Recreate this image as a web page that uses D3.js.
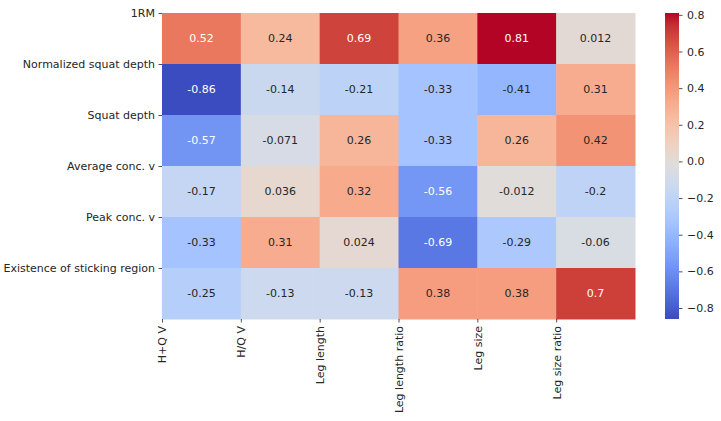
<!DOCTYPE html>
<html>
<head>
<meta charset="utf-8">
<script src="https://cdn.jsdelivr.net/npm/d3@7"></script>
<style>
  body { margin: 0; background: #fff; }
  text { font-family: "DejaVu Sans", sans-serif; }
</style>
</head>
<body>
<div id="chart"></div>
<script>
const w = 721;
const h = 421;

// data
const rowNames = ["1RM", "Normalized squat depth", "Squat depth", "Average conc. v", "Peak conc. v", "Existence of sticking region"];
const colNames = ["H+Q V", "H/Q V", "Leg length", "Leg length ratio", "Leg size", "Leg size ratio"];
const values = [
    [0.52, 0.24, 0.69, 0.36, 0.81, 0.012],
    [-0.86, -0.14, -0.21, -0.33, -0.41, 0.31],
    [-0.57, -0.071, 0.26, -0.33, 0.26, 0.42],
    [-0.17, 0.036, 0.32, -0.56, -0.012, -0.2],
    [-0.33, 0.31, 0.024, -0.69, -0.29, -0.06],
    [-0.25, -0.13, -0.13, 0.38, 0.38, 0.7]
];
const cbarTicks = [-0.8, -0.6, -0.4, -0.2, 0.0, 0.2, 0.4, 0.6, 0.8];

// coolwarm table (Moreland)
const cw = [
    [59,76,192],[68,90,204],[77,104,215],[87,117,225],[98,130,234],[108,142,241],
    [119,154,247],[130,165,251],[141,176,254],[152,185,255],[163,194,255],[174,201,253],
    [184,208,249],[194,213,244],[204,217,238],[213,219,230],[221,221,221],[229,216,209],
    [236,211,197],[241,204,185],[245,196,173],[247,187,160],[247,177,148],[247,166,135],
    [244,154,123],[241,141,111],[236,127,99],[229,112,88],[222,96,77],[213,80,66],
    [203,62,56],[192,40,47],[180,4,38]
];
const coolwarm = d3.scaleLinear()
    .domain(cw.map((d, i) => i / (cw.length - 1)))
    .range(cw.map(d => d3.rgb(d[0], d[1], d[2])))
    .interpolate(d3.interpolateRgb)
    .clamp(true);

const all = values.flat();
const vmin = d3.min(all), vmax = d3.max(all);
const norm = d3.scaleLinear().domain([vmin, vmax]).range([0, 1]);
const color = v => coolwarm(norm(v));

const plot = { left: 162, right: 635, top: 13, bottom: 319 };
const fs = "11px";

const x = d3.scaleBand().domain(colNames).range([plot.left, plot.right]).padding(0);
const y = d3.scaleBand().domain(rowNames).range([plot.top, plot.bottom]).padding(0);

const svg = d3.select("#chart").append("svg")
    .attr("width", w)
    .attr("height", h);

// cells
const cells = [];
values.forEach((row, i) => row.forEach((v, j) => cells.push({ r: rowNames[i], c: colNames[j], v: v })));

svg.append("g").selectAll("rect")
    .data(cells)
    .enter()
    .append("rect")
    .attr("x", d => x(d.c))
    .attr("y", d => y(d.r))
    .attr("width", x.bandwidth() + 0.5)
    .attr("height", y.bandwidth() + 0.5)
    .attr("fill", d => color(d.v));

let lum = (c) => {
    let rgb = d3.rgb(c);
    let f = u => { u = u / 255; return u <= 0.03928 ? u / 12.92 : Math.pow((u + 0.055) / 1.055, 2.4); };
    return 0.2126 * f(rgb.r) + 0.7152 * f(rgb.g) + 0.0722 * f(rgb.b);
};

svg.append("g").selectAll("text")
    .data(cells)
    .enter()
    .append("text")
    .attr("x", d => x(d.c) + x.bandwidth() / 2)
    .attr("y", d => y(d.r) + y.bandwidth() / 2)
    .attr("dy", "0.35em")
    .attr("text-anchor", "middle")
    .attr("font-size", fs)
    .attr("fill", d => lum(color(d.v)) > 0.408 ? "#262626" : "#ffffff")
    .text(d => String(d.v));

// axes: ticks on the band edges (offset like the original)
const yAxis = d3.axisLeft(d3.scalePoint().domain(rowNames).range([plot.top, plot.bottom - y.bandwidth()]))
    .tickSize(3.5).tickPadding(3.5);
const gy = svg.append("g").attr("transform", "translate(" + plot.left + ",0)").call(yAxis);
gy.select(".domain").remove();
gy.selectAll("text").attr("font-size", fs).attr("fill", "#262626").attr("font-family", "DejaVu Sans");
gy.selectAll("line").attr("stroke", "#262626").attr("stroke-width", 0.8);

const xAxis = d3.axisBottom(d3.scalePoint().domain(colNames).range([plot.left, plot.right - x.bandwidth()]))
    .tickSize(3.5).tickPadding(3);
const gx = svg.append("g").attr("transform", "translate(0," + plot.bottom + ")").call(xAxis);
gx.select(".domain").remove();
gx.selectAll("line").attr("stroke", "#262626").attr("stroke-width", 0.8);
gx.selectAll("text")
    .attr("font-size", fs)
    .attr("fill", "#262626")
    .attr("font-family", "DejaVu Sans")
    .attr("transform", "rotate(-90)")
    .attr("text-anchor", "end")
    .attr("x", -7)
    .attr("y", 0)
    .attr("dy", "0.35em");

// colorbar
const cb = { x: 665, w: 14 };
const cbScale = d3.scaleLinear().domain([vmin, vmax]).range([plot.bottom, plot.top]);
const defs = svg.append("defs");
const grad = defs.append("linearGradient").attr("id", "cbgrad")
    .attr("x1", 0).attr("y1", 1).attr("x2", 0).attr("y2", 0);
d3.range(0, 1.0001, 1 / 64).forEach(t => {
    grad.append("stop").attr("offset", t).attr("stop-color", coolwarm(t));
});
svg.append("rect")
    .attr("x", cb.x)
    .attr("y", plot.top)
    .attr("width", cb.w)
    .attr("height", plot.bottom - plot.top)
    .attr("fill", "url(#cbgrad)");

const cAxis = d3.axisRight(cbScale)
    .tickValues(cbarTicks)
    .tickSize(3.5)
    .tickPadding(4.5)
    .tickFormat(d => d3.format(".1f")(d).replace("-", "\u2212"));
const gc = svg.append("g").attr("transform", "translate(" + (cb.x + cb.w) + ",0)").call(cAxis);
gc.select(".domain").remove();
gc.selectAll("line").attr("stroke", "#262626").attr("stroke-width", 0.8);
gc.selectAll("text").attr("font-size", fs).attr("fill", "#262626").attr("font-family", "DejaVu Sans");
</script>
</body>
</html>
